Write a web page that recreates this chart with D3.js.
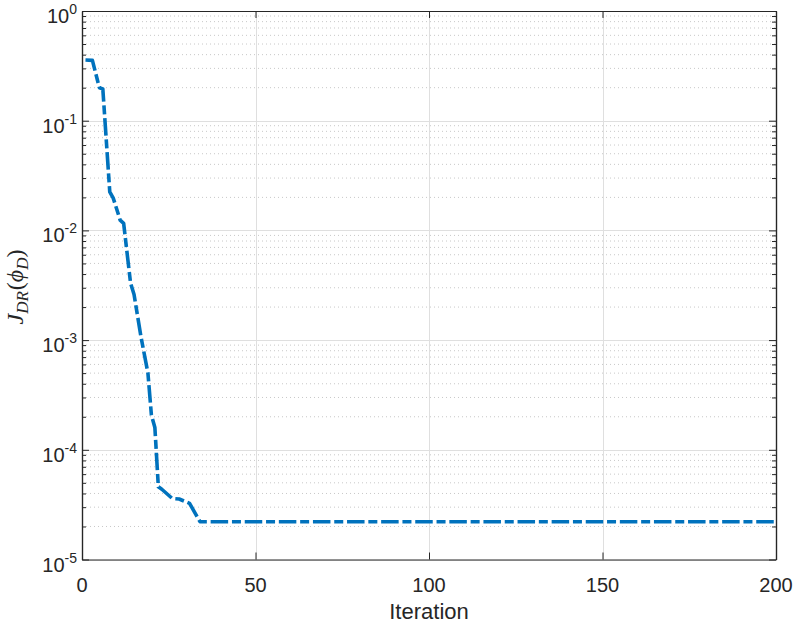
<!DOCTYPE html>
<html>
<head>
<meta charset="utf-8">
<script src="https://cdn.jsdelivr.net/npm/d3@7"></script>
<style>
  html, body { margin: 0; padding: 0; background: #fff; }
  svg { display: block; }
  text { font-family: "Liberation Sans", Arial, Helvetica, sans-serif; fill: #262626; }
</style>
</head>
<body>
<svg id="chart" width="793" height="625"></svg>
<script>
// ---- data ----
const iterations = [1, 3, 5, 6, 8, 9, 11, 12, 14, 15, 17, 19, 20, 21, 22, 23, 26, 28, 31, 34, 200];
const costValues = [0.357, 0.355, 0.2, 0.195, 0.0225, 0.0197, 0.0124, 0.0116, 0.0033, 0.0026,
                    0.00107, 0.0005, 0.000207, 0.00016, 0.000046, 0.0000437, 0.000036, 0.0000356,
                    0.0000325, 0.0000221, 0.0000221];
const xTicks = [0, 50, 100, 150, 200];
const yTickExponents = [0, -1, -2, -3, -4, -5];
const xLabel = "Iteration";

// ---- layout ----
const svg = d3.select("#chart");
const pL = 82, pR = 776, pT = 11, pB = 559.5;
const x = d3.scaleLinear().domain([0, 200]).range([pL, pR]);
const y = d3.scaleLog().domain([1e-5, 1]).range([pB, pT]);

const gridMajor = "#dfdfdf", gridMinor = "#c8c8c8", axisColor = "#262626";

// minor y values
const minorY = [];
for (let e = -5; e < 0; e++) for (let m = 2; m <= 9; m++) minorY.push(m * Math.pow(10, e));

const grid = svg.append("g");
grid.selectAll("line.minor").data(minorY).enter().append("line")
  .attr("x1", pL).attr("x2", pR)
  .attr("y1", d => y(d)).attr("y2", d => y(d))
  .attr("stroke", gridMinor).attr("stroke-width", 1).attr("stroke-dasharray", "1,3");
grid.selectAll("line.majy").data(yTickExponents.map(e => Math.pow(10, e))).enter().append("line")
  .attr("x1", pL).attr("x2", pR)
  .attr("y1", d => Math.round(y(d)) + 0.5).attr("y2", d => Math.round(y(d)) + 0.5)
  .attr("stroke", gridMajor).attr("stroke-width", 1);
grid.selectAll("line.majx").data(xTicks).enter().append("line")
  .attr("y1", pT).attr("y2", pB)
  .attr("x1", d => Math.round(x(d)) + 0.5).attr("x2", d => Math.round(x(d)) + 0.5)
  .attr("stroke", gridMajor).attr("stroke-width", 1);

// ---- line ----
const line = d3.line().x((d, i) => x(iterations[i])).y(d => y(d));
svg.append("path")
  .attr("d", line(costValues))
  .attr("fill", "none")
  .attr("stroke", "#0072BD")
  .attr("stroke-width", 3.6)
  .attr("stroke-linejoin", "round")
  .attr("stroke-dasharray", "17.5,3.8,9,3.8");

// ---- axes (box with inward ticks) ----
const majLen = 7, minLen = 4;
const majorY = yTickExponents.map(e => Math.pow(10, e));
const bottomAxis = d3.axisBottom(x).tickValues(xTicks).tickSizeInner(-majLen).tickSizeOuter(0).tickFormat("");
const topAxis = d3.axisTop(x).tickValues(xTicks).tickSizeInner(-majLen).tickSizeOuter(0).tickFormat("");
const leftAxis = d3.axisLeft(y).tickValues(majorY).tickSizeInner(-majLen).tickSizeOuter(0).tickFormat("");
const rightAxis = d3.axisRight(y).tickValues(majorY).tickSizeInner(-majLen).tickSizeOuter(0).tickFormat("");
const leftMinor = d3.axisLeft(y).tickValues(minorY).tickSizeInner(-minLen).tickSizeOuter(0).tickFormat("");
const rightMinor = d3.axisRight(y).tickValues(minorY).tickSizeInner(-minLen).tickSizeOuter(0).tickFormat("");

function styleAxis(g) {
  g.selectAll("path").attr("stroke", axisColor).attr("stroke-width", 1.2);
  g.selectAll("line").attr("stroke", axisColor).attr("stroke-width", 1);
}
svg.append("g").attr("transform", `translate(0,${pB})`).call(bottomAxis).call(styleAxis);
svg.append("g").attr("transform", `translate(0,${pT})`).call(topAxis).call(styleAxis);
svg.append("g").attr("transform", `translate(${pL},0)`).call(leftAxis).call(styleAxis);
svg.append("g").attr("transform", `translate(${pR},0)`).call(rightAxis).call(styleAxis);
svg.append("g").attr("transform", `translate(${pL},0)`).call(leftMinor).call(styleAxis);
svg.append("g").attr("transform", `translate(${pR},0)`).call(rightMinor).call(styleAxis);

// ---- tick labels ----
const xl = svg.append("g");
xl.selectAll("text").data(xTicks).enter().append("text")
  .attr("x", d => x(d)).attr("y", 592)
  .attr("text-anchor", "middle").attr("font-size", 20)
  .text(d => d);

const yl = svg.append("g");
yTickExponents.forEach(e => {
  const t = yl.append("text")
    .attr("x", 77).attr("y", y(Math.pow(10, e)) + 12)
    .attr("text-anchor", "end").attr("font-size", 20);
  t.append("tspan").text("10");
  t.append("tspan").attr("font-size", 14).attr("dy", -9).text(String(e));
});

// ---- axis labels ----
svg.append("text")
  .attr("x", (pL + pR) / 2).attr("y", 619)
  .attr("text-anchor", "middle").attr("font-size", 22)
  .text(xLabel);

const yLab = svg.append("text")
  .attr("transform", `translate(23,287) rotate(-90)`)
  .attr("text-anchor", "middle")
  .style("font-family", "'Liberation Serif', 'DejaVu Serif', serif")
  .attr("font-size", 24);
yLab.append("tspan").attr("font-style", "italic").text("J");
yLab.append("tspan").attr("font-style", "italic").attr("font-size", 17).attr("dy", 5).text("DR");
yLab.append("tspan").attr("dy", -5).attr("dx", 1).text("(");
yLab.append("tspan").attr("font-style", "italic").text("ϕ");
yLab.append("tspan").attr("font-style", "italic").attr("font-size", 17).attr("dy", 5).text("D");
yLab.append("tspan").attr("dy", -5).text(")");
</script>
</body>
</html>
